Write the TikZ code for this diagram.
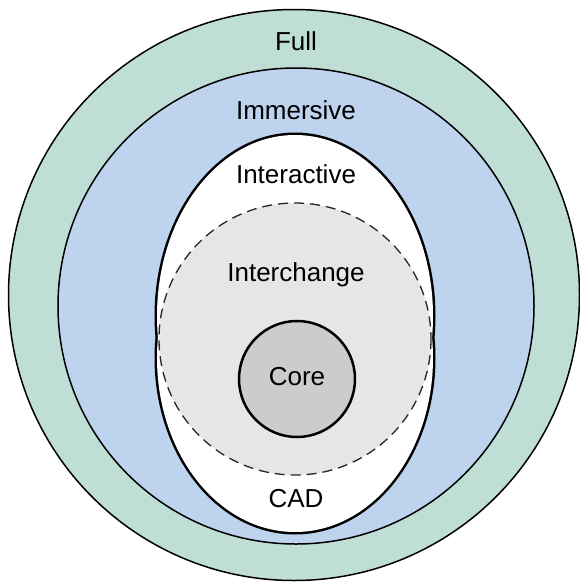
\documentclass[tikz,border=0pt]{standalone}
\usepackage{fontspec}
\setmainfont{Liberation Sans}
\definecolor{fullgreen}{RGB}{191,222,213}
\definecolor{immblue}{RGB}{190,211,238}
\definecolor{xchgray}{RGB}{230,230,230}
\definecolor{coregray}{RGB}{204,204,204}
\tikzset{
  ring/.style={draw=black,line width=1.5pt},
  lbl/.style={font=\fontsize{26}{30}\selectfont,inner sep=0pt}
}
\begin{document}
\begin{tikzpicture}[x=1pt,y=-1pt]
 \useasboundingbox (0,0) rectangle (579,584);
 \path[ring,fill=fullgreen] (294,295) circle [radius=285.5];
 \path[ring,fill=immblue]  (296,306) circle [radius=238];
 % interactive (top) and CAD (bottom): outline of the union only
 \draw[line width=5pt] (295,316) ellipse [x radius=138,y radius=181]
                       (295,358) ellipse [x radius=138,y radius=174];
 \fill[white] (295,316) ellipse [x radius=138,y radius=181]
              (295,358) ellipse [x radius=138,y radius=174];
 \path[fill=xchgray,draw=black!85,line width=1.3pt,dash pattern=on 10pt off 6pt]
   (295,339) circle [radius=136];
 \path[draw=black,line width=2.5pt,fill=coregray] (297,379) circle [radius=58];
 \node[lbl] (full)        at (296,41)  {Full};
 \node[lbl] (immersive)   at (296,110) {Immersive};
 \node[lbl] (interactive) at (296,174) {Interactive};
 \node[lbl] (interchange) at (296,275) {Interchange};
 \node[lbl] (core)        at (297,377) {Core};
 \node[lbl] (cad)         at (296,499) {CAD};
\end{tikzpicture}
\end{document}
